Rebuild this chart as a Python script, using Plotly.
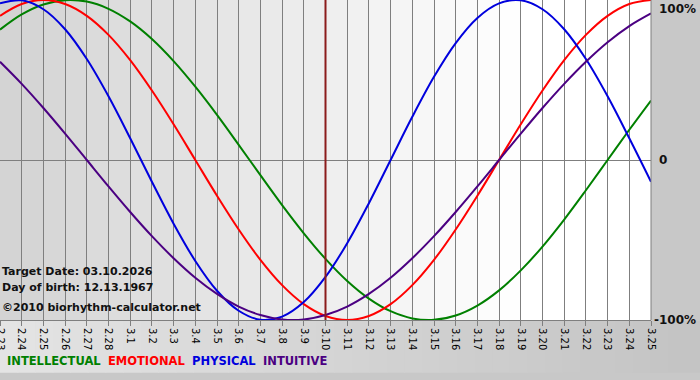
import plotly.graph_objects as go

days = ["2.23", "2.24", "2.25", "2.26", "2.27", "2.28",
        "3.1", "3.2", "3.3", "3.4", "3.5", "3.6", "3.7", "3.8", "3.9", "3.10",
        "3.11", "3.12", "3.13", "3.14", "3.15", "3.16", "3.17", "3.18", "3.19",
        "3.20", "3.21", "3.22", "3.23", "3.24", "3.25"]

physical = [0.979, 0.998, 0.942, 0.817, 0.631, 0.398, 0.136, -0.136, -0.398, -0.631,
            -0.817, -0.942, -0.998, -0.979, -0.888, -0.731, -0.520, -0.270, 0.0, 0.270,
            0.520, 0.731, 0.888, 0.979, 0.998, 0.942, 0.817, 0.631, 0.398, 0.136, -0.136]
emotional = [0.901, 0.975, 1.0, 0.975, 0.901, 0.782, 0.624, 0.434, 0.223, 0.0,
             -0.223, -0.434, -0.624, -0.782, -0.901, -0.975, -1.0, -0.975, -0.901, -0.782,
             -0.624, -0.434, -0.223, 0.0, 0.223, 0.434, 0.624, 0.782, 0.901, 0.975, 1.0]
intellectual = [0.815, 0.910, 0.972, 0.999, 0.990, 0.945, 0.866, 0.756, 0.618, 0.458,
                0.282, 0.095, -0.095, -0.282, -0.458, -0.618, -0.756, -0.866, -0.945, -0.990,
                -0.999, -0.972, -0.910, -0.815, -0.690, -0.541, -0.372, -0.189, 0.0, 0.189, 0.372]
intuitive = [0.614, 0.476, 0.325, 0.165, 0.0, -0.165, -0.325, -0.476, -0.614, -0.736,
             -0.837, -0.916, -0.969, -0.997, -0.997, -0.969, -0.916, -0.837, -0.736, -0.614,
             -0.476, -0.325, -0.165, 0.0, 0.165, 0.325, 0.476, 0.614, 0.736, 0.837, 0.916]

target_index = 15
target_date = "03.10.2026"
birth_date = "12.13.1967"

x = list(range(len(days)))

series = [
    ("INTELLECTUAL", intellectual, "#008000"),
    ("EMOTIONAL", emotional, "#ff0000"),
    ("PHYSICAL", physical, "#0000dd"),
    ("INTUITIVE", intuitive, "#4b0082"),
]

fig = go.Figure()

PH = 320.0  # plot height in px

shapes = []
n = len(days) - 1
for i in range(n):
    t = i / (n - 1)
    c = int(212 + (255 - 212) * min(1.0, t * 1.25))
    shapes.append(dict(type="rect", xref="x", yref="y", x0=i, x1=i + 1, y0=-1, y1=1,
                       fillcolor=f"rgb({c},{c},{c})", line=dict(width=0), layer="below"))
m = 40
for i in range(m):
    t = i / (m - 1)
    c = int(228 - (228 - 196) * t)
    shapes.append(dict(type="rect", xref="paper", yref="paper", x0=i / m * 1.08, x1=(i + 1) / m * 1.08 + 0.001,
                       y0=-0.165, y1=-0.003, fillcolor=f"rgb({c},{c},{c})", line=dict(width=0), layer="below"))
shapes.append(dict(type="line", xref="x", yref="y", x0=target_index, x1=target_index, y0=-1, y1=1,
                   line=dict(color="#8b1c1c", width=2)))
shapes.append(dict(type="line", xref="paper", yref="paper", x0=1, x1=1, y0=0, y1=1,
                   line=dict(color="#7f7f7f", width=1)))

for name, vals, col in series:
    fig.add_trace(go.Scatter(x=x, y=vals, mode="lines", name=name,
                             line=dict(color=col, width=2, shape="spline", smoothing=1.0),
                             showlegend=False, hoverinfo="skip"))

annotations = [
    dict(text="<b>100%</b>", x=1.0, y=1.0, xref="paper", yref="paper", xanchor="left", yanchor="top",
         xshift=6, yshift=0, showarrow=False, font=dict(size=12, color="#111", family="DejaVu Sans")),
    dict(text="<b>0</b>", x=1.0, y=0.0, xref="paper", yref="y", xanchor="left", yanchor="middle",
         xshift=6, showarrow=False, font=dict(size=12, color="#111", family="DejaVu Sans")),
    dict(text="<b>-100%</b>", x=1.0, y=-1.0, xref="paper", yref="y", xanchor="left", yanchor="middle",
         xshift=1, showarrow=False, font=dict(size=12, color="#111", family="DejaVu Sans")),
]
left_texts = [(f"Target Date: {target_date}", 271), (f"Day of birth: {birth_date}", 287),
              ("©2010 biorhythm-calculator.net", 307)]
for txt, py in left_texts:
    annotations.append(dict(text=f"<b>{txt}</b>", x=0, y=1 - py / PH, xref="paper", yref="paper",
                            xanchor="left", yanchor="middle", xshift=0, showarrow=False,
                            font=dict(size=11, color="#111", family="DejaVu Sans")))
legend_html = "  ".join(f"<span style='color:{c}'><b>{n_}</b></span>" for n_, _, c in series)
annotations.append(dict(text=legend_html, x=0, y=1 - 361 / PH, xref="paper", yref="paper",
                        xanchor="left", yanchor="middle", xshift=5, showarrow=False,
                        font=dict(size=11.5, family="DejaVu Sans")))

fig.update_layout(
    width=700, height=380,
    margin=dict(l=0, r=49, t=0, b=60, pad=0, autoexpand=False),
    paper_bgcolor="#c8c8c8",
    plot_bgcolor="#ffffff",
    shapes=shapes,
    annotations=annotations,
    xaxis=dict(range=[0, n], tickvals=x, ticktext=days, tickangle=90,
               showgrid=True, gridcolor="#7f7f7f", gridwidth=1,
               ticks="outside", ticklen=5, tickcolor="#7f7f7f",
               tickfont=dict(size=10, family="DejaVu Sans", color="#000"),
               ticklabeloverflow="allow", automargin=False,
               showline=True, linecolor="#7f7f7f", zeroline=False, mirror=False, fixedrange=True),
    yaxis=dict(range=[-1, 1], tickvals=[-1, 0, 1], showticklabels=False,
               showgrid=True, gridcolor="#7f7f7f", gridwidth=1, zeroline=False,
               showline=False, fixedrange=True, automargin=False),
)

fig.write_html("out.html", config={"displayModeBar": False},
               post_script="document.body.style.margin='0';document.body.style.padding='0';")
